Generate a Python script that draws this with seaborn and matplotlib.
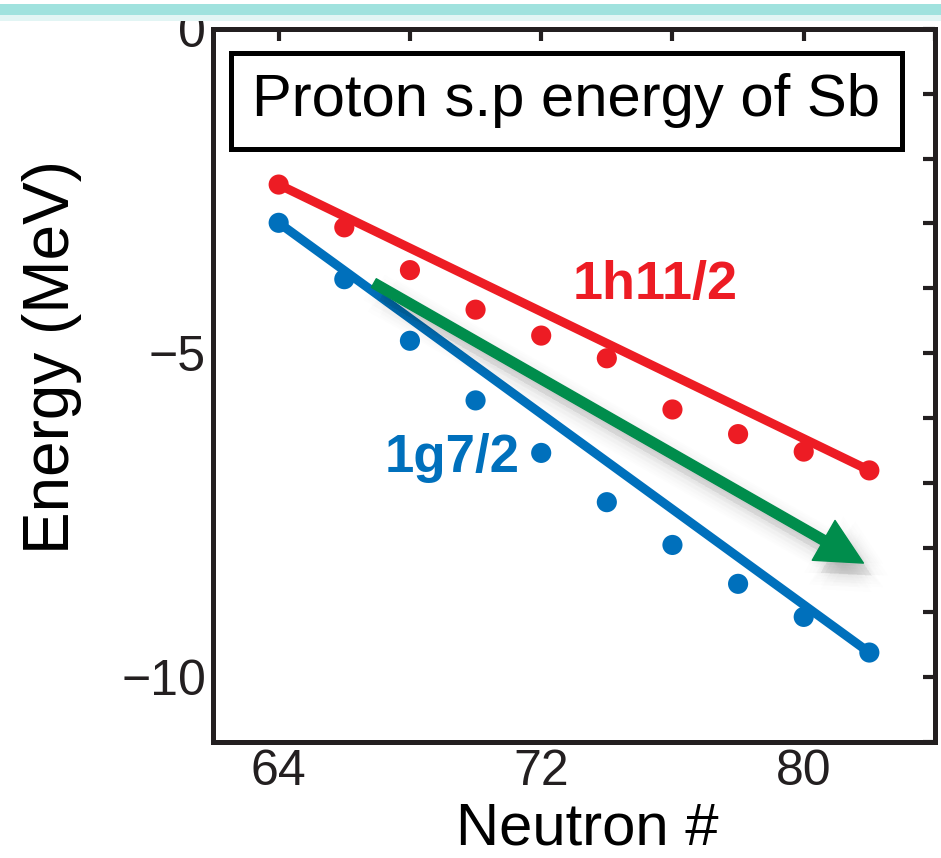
import numpy as np
import pandas as pd
import matplotlib
matplotlib.use("Agg")
import matplotlib.pyplot as plt
import matplotlib.patheffects as pe
from matplotlib.patches import Rectangle
from matplotlib.ticker import MultipleLocator
import seaborn as sns

# --- data ---
neutrons = [64, 66, 68, 70, 72, 74, 76, 78, 80, 82]
e_h11 = [-2.40, -3.06, -3.72, -4.33, -4.73, -5.08, -5.87, -6.25, -6.52, -6.81]
e_g7 = [-2.99, -3.86, -4.81, -5.73, -6.54, -7.30, -7.96, -8.56, -9.07, -9.62]
series_names = ["1h11/2", "1g7/2"]
arrow_start = (66.9, -3.92)
arrow_end = (81.82, -8.24)
title_text = "Proton s.p energy of Sb"

RED = "#ED1C24"
BLUE = "#0070BC"
GREEN = "#008D4C"
INK = "#231F20"

df = pd.DataFrame({
    "N": neutrons * 2,
    "E": e_h11 + e_g7,
    "orbit": [series_names[0]] * len(neutrons) + [series_names[1]] * len(neutrons),
})
# straight lines joining first and last point of each orbit
ends = df.groupby("orbit").nth([0, -1])

sns.set_theme(style="white")
plt.rcParams["font.family"] = ["Liberation Sans", "DejaVu Sans"]
plt.rcParams["axes.unicode_minus"] = True

fig = plt.figure(figsize=(9.41, 8.58), dpi=100)
ax = fig.add_axes([0.2264, 0.1352, 0.7672, 0.831])

# slide decoration: teal band at the top
fig.patches.append(Rectangle((0, 0.9825), 1, 0.0128, transform=fig.transFigure,
                             facecolor="#A0E2DE", edgecolor="none", zorder=0))
fig.patches.append(Rectangle((0, 0.975), 1, 0.0075, transform=fig.transFigure,
                             facecolor="#E2F5F4", edgecolor="none", zorder=0))

pal = {series_names[0]: RED, series_names[1]: BLUE}
sns.lineplot(data=ends, x="N", y="E", hue="orbit", palette=pal, lw=6.5,
             legend=False, ax=ax, zorder=2)
sns.scatterplot(data=df, x="N", y="E", hue="orbit", palette=pal, s=210,
                edgecolor="none", legend=False, ax=ax, zorder=3)

# green trend arrow with soft shadow
shadows = []
for r in [12, 9, 6, 3, 0]:
    for ang in np.linspace(0, 2 * np.pi, 8, endpoint=False):
        shadows.append(pe.SimplePatchShadow(offset=(6 + r * np.cos(ang), -9 + r * np.sin(ang)),
                                            shadow_rgbFace="black", alpha=0.007))
ax.annotate("", xy=arrow_end, xytext=arrow_start,
            arrowprops=dict(arrowstyle="simple,head_length=3.3,head_width=3.3,tail_width=0.72",
                            color=GREEN, shrinkA=0, shrinkB=0, mutation_scale=10,
                            path_effects=shadows + [pe.Normal()]),
            zorder=4)

ax.text(75.47, -3.95, series_names[0], color=RED, fontsize=39, fontweight="bold",
        ha="center", va="center")
ax.text(69.28, -6.62, series_names[1], color=BLUE, fontsize=38, fontweight="bold",
        ha="center", va="center")

# title box
ax.add_patch(Rectangle((0.025, 0.832), 0.929, 0.135, transform=ax.transAxes,
                       facecolor="white", edgecolor="black", lw=3.6, zorder=5))
ax.text(0.489, 0.900, title_text, transform=ax.transAxes, fontsize=43,
        ha="center", va="center", color="black", zorder=6)

ax.set_xlim(62, 84)
ax.set_ylim(-11, 0)
ax.xaxis.set_major_locator(MultipleLocator(8))
ax.xaxis.set_minor_locator(MultipleLocator(4))
ax.yaxis.set_major_locator(MultipleLocator(5))
ax.yaxis.set_minor_locator(MultipleLocator(1))
ax.tick_params(which="both", direction="in", top=True, right=True, length=8.5,
               width=3, color=INK, labelsize=36, labelcolor=INK, pad=5)
for sp in ax.spines.values():
    sp.set_visible(True)
    sp.set_linewidth(3.6)
    sp.set_color(INK)

ax.set_xlabel("Neutron #", fontsize=43, color="black", va="bottom")
ax.set_ylabel("Energy (MeV)", fontsize=46, color="black")
ax.xaxis.set_label_coords(0.519, -0.160)
ax.yaxis.set_label_coords(-0.181, 0.54)

fig.savefig("out.png", dpi=100)
